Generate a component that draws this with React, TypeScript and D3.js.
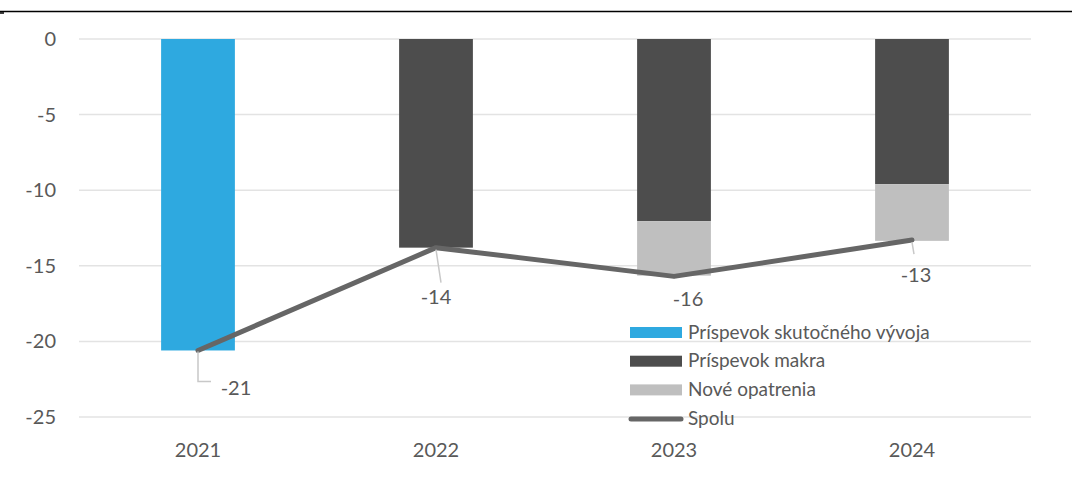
import React from "react";
import * as d3 from "d3";

const years = ["2021", "2022", "2023", "2024"];
const skutocny = [-20.6, 0, 0, 0];
const makro = [0, -13.8, -12.05, -9.6];
const opatrenia = [0, 0, -3.6, -3.75];
const spolu = [-20.6, -13.8, -15.7, -13.3];
const spoluLabels = ["-21", "-14", "-16", "-13"];
const yTicks = [0, -5, -10, -15, -20, -25];
const legendItems = [
  { name: "Príspevok skutočného vývoja", color: "#2EA9E0", type: "rect" },
  { name: "Príspevok makra", color: "#4D4D4D", type: "rect" },
  { name: "Nové opatrenia", color: "#BFBFBF", type: "rect" },
  { name: "Spolu", color: "#666666", type: "line" },
];

const W = 1072;
const H = 487;
const FONT = "Lato, 'Open Sans', sans-serif";

export default function App() {
  const x = d3.scaleBand<string>().domain(years).range([79, 1031]).paddingInner(0.69).paddingOuter(0.345);
  const y = d3.scaleLinear().domain([-25, 0]).range([417, 39]);
  const bw = x.bandwidth();
  const cx = (i: number) => (x(years[i]) as number) + bw / 2;

  const line = d3
    .line<number>()
    .x((_, i) => cx(i))
    .y((d) => y(d));

  const labelPos = [
    { dx: 38, dy: 38, leader: [[0, 1], [0, 31], [13, 31]] },
    { dx: 0, dy: 49, leader: [[0, 2], [5, 35]] },
    { dx: 14, dy: 23, leader: [] as number[][] },
    { dx: 4, dy: 35, leader: [[0, 2], [2, 14]] },
  ];

  return (
    <svg width={W} height={H} style={{ position: "fixed", left: 0, top: 0 }}>
      <rect width={W} height={H} fill="#fff" />
      <line x1={0} x2={W} y1={11.5} y2={11.5} stroke="#000" strokeWidth={1.5} />
      <line x1={0} x2={4} y1={13} y2={13} stroke="#000" strokeWidth={1.5} />
      {yTicks.map((t) => (
        <g key={t}>
          <line x1={79} x2={1031} y1={y(t)} y2={y(t)} stroke="#E3E3E3" strokeWidth={1.5} />
          <text x={56} y={y(t)} dy="0.35em" textAnchor="end" fontFamily={FONT} fontSize={20} fill="#595959">
            {t}
          </text>
        </g>
      ))}
      {years.map((yr, i) => {
        const x0 = x(yr) as number;
        const m = makro[i];
        const o = opatrenia[i];
        const s = skutocny[i];
        return (
          <g key={yr}>
            {s !== 0 && <rect x={x0} width={bw} y={y(0)} height={y(s) - y(0)} fill="#2EA9E0" />}
            {m !== 0 && <rect x={x0} width={bw} y={y(0)} height={y(m) - y(0)} fill="#4D4D4D" />}
            {o !== 0 && <rect x={x0} width={bw} y={y(m)} height={y(m + o) - y(m)} fill="#BFBFBF" />}
            <text x={cx(i)} y={450} dy="0.35em" textAnchor="middle" fontFamily={FONT} fontSize={20} fill="#595959">
              {yr}
            </text>
          </g>
        );
      })}
      <path d={line(spolu) || ""} fill="none" stroke="#666666" strokeWidth={5} strokeLinejoin="round" strokeLinecap="round" />
      {spolu.map((v, i) => {
        const px = cx(i);
        const py = y(v);
        const lp = labelPos[i];
        return (
          <g key={i}>
            {lp.leader.length > 0 && (
              <polyline
                points={lp.leader.map(([a, b]) => `${px + a},${py + b}`).join(" ")}
                fill="none"
                stroke="#C8C8C8"
                strokeWidth={1.5}
              />
            )}
            <text x={px + lp.dx} y={py + lp.dy} dy="0.35em" textAnchor="middle" fontFamily={FONT} fontSize={20} fill="#595959">
              {spoluLabels[i]}
            </text>
          </g>
        );
      })}
      {legendItems.map((it, i) => {
        const ly = 332 + i * 28.7;
        return (
          <g key={it.name}>
            {it.type === "rect" ? (
              <rect x={630} y={ly - 5} width={52} height={11} fill={it.color} />
            ) : (
              <line x1={631} x2={681} y1={ly + 1} y2={ly + 1} stroke={it.color} strokeWidth={5} strokeLinecap="round" />
            )}
            <text x={688} y={ly} dy="0.35em" fontFamily={FONT} fontSize={19} fill="#595959">
              {it.name}
            </text>
          </g>
        );
      })}
    </svg>
  );
}
